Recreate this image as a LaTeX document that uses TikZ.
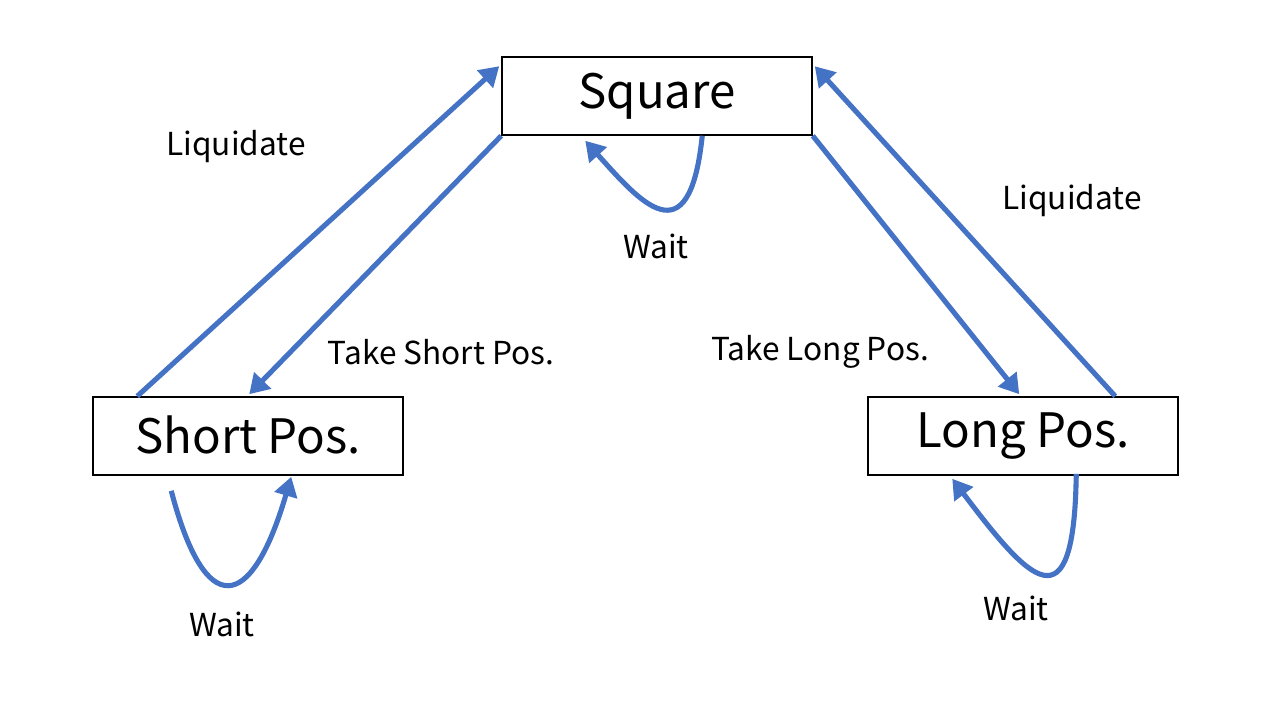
\documentclass[tikz,border=0pt]{standalone}
\usepackage{fontspec}
\setmainfont{Noto Sans CJK JP}
\usetikzlibrary{arrows.meta,calc}
\definecolor{arrowblue}{HTML}{4472C4}
\tikzset{
  statebox/.style={draw=black, line width=0.9pt, minimum width=6.2cm, minimum height=1.56cm, inner sep=0pt, font=\fontsize{27}{32}\selectfont},
  lbl/.style={font=\fontsize{18}{22}\selectfont, inner sep=0pt},
  conn/.style={draw=arrowblue, line width=2.9pt, -{Triangle[length=11pt,width=13pt]}},
}
\begin{document}
\begin{tikzpicture}[x=0.02cm, y=-0.02cm]
\useasboundingbox (0,0) rectangle (1280,720);
\node[statebox] (sq) at (657,96) {\raisebox{2pt}{Square}};
\node[statebox] (sh) at (248,436) {\raisebox{2pt}{Short Pos.}};
\node[statebox] (lg) at (1023,436) {\raisebox{2pt}{Long Pos.}};

\node[lbl] (l1) at (236,147) {Liquidate};
\node[lbl] (l2) at (1072,201) {Liquidate};
\node[lbl] (w1) at (656,246) {Wait};
\node[lbl] (w2) at (222,624) {Wait};
\node[lbl] (w3) at (1016,608) {Wait};
\node[lbl] (ts) at (441,352) {Take Short Pos.};
\node[lbl] (tl) at (820,352) {Take Long Pos.};

% straight connectors
\draw[conn] ($(sh.north west)+(45,0)$) -- ($(sq.north west)+(-2,10)$);
\draw[conn] (sq.south west) -- ($(sh.north west)+(157,-2)$);
\draw[conn] (sq.south east) -- ($(lg.north west)+(152,-2)$);
\draw[conn] ($(lg.north west)+(248,0)$) -- ($(sq.north east)+(2,10)$);

% self loops
\draw[conn] ($(sq.south west)+(201,0)$) .. controls +(-13,125) and +(54,60) .. ($(sq.south west)+(84,5)$);
\draw[conn] ($(sh.south west)+(79,15)$) .. controls +(34,130) and +(-40,136) .. ($(sh.south west)+(199,1)$);
\draw[conn] ($(lg.south west)+(209,-2)$) .. controls +(-2,157) and +(77,102) .. ($(lg.south west)+(85,3)$);
\end{tikzpicture}
\end{document}
